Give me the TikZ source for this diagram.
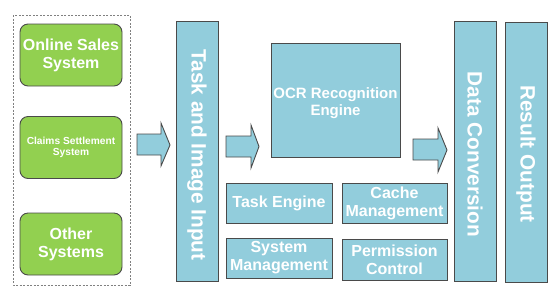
\documentclass[tikz,border=0pt]{standalone}
\usepackage{fontspec}
\setmainfont{Liberation Sans}
\definecolor{bluefill}{HTML}{92CDDC}
\definecolor{greenfill}{HTML}{92D050}
\definecolor{edgegray}{HTML}{4A4A4A}
\definecolor{dashgray}{HTML}{808080}
\tikzset{
  bluebox/.style={draw=edgegray, line width=0.9pt, fill=bluefill, text=white, align=center, inner sep=0pt, outer sep=0pt},
  greenbox/.style={draw=edgegray, line width=0.9pt, fill=greenfill, text=white, align=center, rounded corners=8pt, inner sep=0pt, outer sep=0pt, minimum width=102pt, minimum height=62pt},
  fatarrow/.style={draw=edgegray, line width=0.9pt, fill=bluefill},
  lbl/.style={text=white, align=center, inner sep=0pt},
  bigtxt/.style={font=\bfseries\fontsize{16}{18}\selectfont},
  bartxt/.style={font=\bfseries\fontsize{20.8}{24}\selectfont, rotate=-90},
  barbox/.style={bluebox, minimum width=42pt, minimum height=260pt},
  modbox/.style={bluebox, bigtxt, minimum width=106pt, minimum height=40pt}
}
\begin{document}
\begin{tikzpicture}[x=1pt,y=-1pt]
\useasboundingbox (0,0) rectangle (554,293);
% dashed group
\draw[dashgray, line width=0.8pt, dash pattern=on 2pt off 1.5pt] (13,15) rectangle (130,285);
% green systems
\node[greenbox, bigtxt] (sales) at (71,55) {Online Sales\\System};
\node[greenbox, font=\bfseries\fontsize{10.2}{11.5}\selectfont] (claims) at (71,147.5) {Claims Settlement\\System};
\node[greenbox, bigtxt] (other) at (71,244) {Other\\Systems};
% block arrows
\draw[fatarrow] (137,134) -- (161,134) -- (161,123) -- (170,145) -- (161,166) -- (161,155) -- (137,155) -- cycle;
\draw[fatarrow] (226,136) -- (251,136) -- (251,125) -- (259,146.5) -- (251,168) -- (251,157) -- (226,157) -- cycle;
\draw[fatarrow] (413,139) -- (438,139) -- (438,128) -- (447,150) -- (438,172) -- (438,160) -- (413,160) -- cycle;
% vertical bars
\node[barbox] (input) at (197,151) {};
\node[lbl, bartxt] (inputl) at (197,155) {Task and Image Input};
\node[barbox] (conv) at (475,151) {};
\node[lbl, bartxt] (convl) at (475,154.5) {Data Conversion};
\node[barbox] (outp) at (526,152) {};
\node[lbl, bartxt] (outl) at (526,154) {Result Output};
% OCR engine and modules
\node[bluebox, minimum width=129pt, minimum height=114pt] (ocr) at (335.5,100) {};
\node[lbl, font=\bfseries\fontsize{15}{17}\selectfont] (ocrl) at (335.5,103) {OCR Recognition\\Engine};
\node[modbox] (task) at (279,203) {Task Engine};
\node[modbox, minimum width=105pt] (cache) at (394.5,203) {Cache\\Management};
\node[modbox] (sysm) at (279,258) {System\\Management};
\node[modbox, minimum width=105pt, minimum height=41pt] (perm) at (394.5,259.5) {Permission\\Control};
\end{tikzpicture}
\end{document}
